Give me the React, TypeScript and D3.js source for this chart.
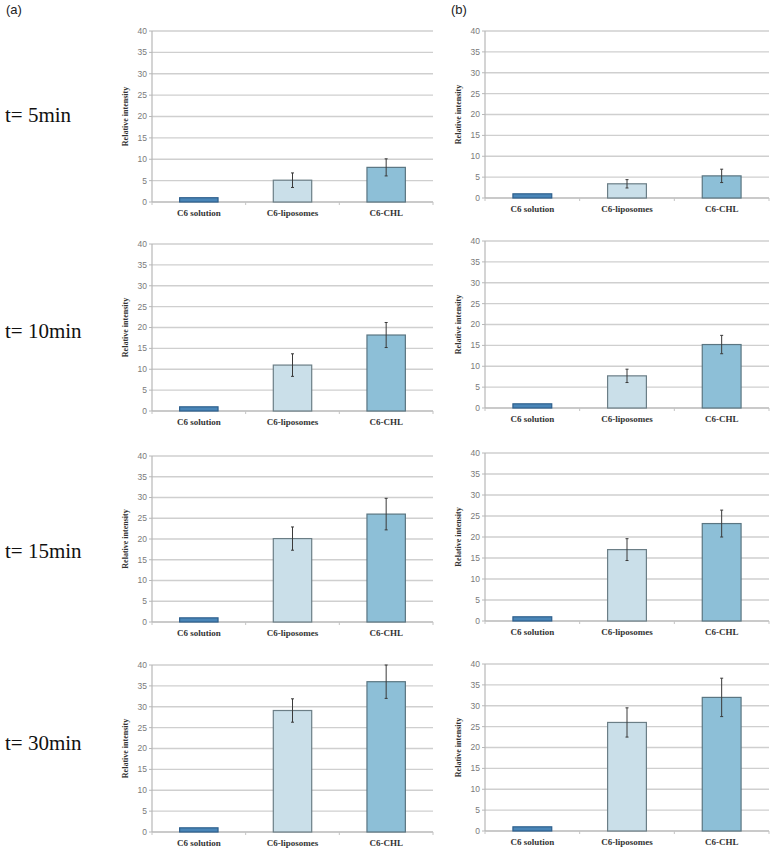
import React from "react";
import * as d3 from "d3";

const categories = ["C6 solution", "C6-liposomes", "C6-CHL"];
const timeLabels = ["t= 5min", "t= 10min", "t= 15min", "t= 30min"];
const panelNames = ["(a)", "(b)"];
const yTicks = [0, 5, 10, 15, 20, 25, 30, 35, 40];

const panelAValues = [
  [1, 5.1, 8.1],
  [1, 11, 18.2],
  [1, 20.1, 26],
  [1, 29.1, 36],
];
const panelAErrors = [
  [0, 1.7, 2],
  [0, 2.7, 3],
  [0, 2.8, 3.8],
  [0, 2.8, 4],
];
const panelBValues = [
  [1, 3.4, 5.3],
  [1, 7.7, 15.2],
  [1, 17, 23.2],
  [1, 26, 32],
];
const panelBErrors = [
  [0, 1, 1.6],
  [0, 1.6, 2.2],
  [0, 2.6, 3.2],
  [0, 3.5, 4.6],
];

const W = 777;
const H = 854;

// layout
const colX = [
  { left: 152, right: 433 },
  { left: 485, right: 769 },
];
const rowY = [
  [
    { top: 31, bottom: 202 },
    { top: 244, bottom: 411 },
    { top: 456, bottom: 622 },
    { top: 665, bottom: 832 },
  ],
  [
    { top: 31, bottom: 198 },
    { top: 241, bottom: 408 },
    { top: 453, bottom: 621 },
    { top: 664, bottom: 831 },
  ],
];
const timeLabelY = [122, 338, 558, 750];

const fills = ["#4a86b8", "#cadfe9", "#8dbfd7"];
const strokes = ["#2e5f8c", "#6b7e86", "#5a7581"];

function Panel({
  left,
  right,
  top,
  bottom,
  values,
  errors,
}: {
  left: number;
  right: number;
  top: number;
  bottom: number;
  values: number[];
  errors: number[];
}) {
  const x = d3
    .scaleBand<string>()
    .domain(categories)
    .range([left, right])
    .paddingInner(0.59)
    .paddingOuter(0.295);
  const y = d3.scaleLinear().domain([0, 40]).range([bottom, top]);
  const step = (right - left) / categories.length;
  const mid = (top + bottom) / 2;
  return (
    <g>
      {yTicks.map((t) => (
        <g key={t}>
          <line
            x1={left}
            x2={right}
            y1={y(t)}
            y2={y(t)}
            stroke={t === 0 ? "#b8b8b8" : "#cfcfcf"}
            strokeWidth={1.3}
          />
          <line x1={left - 3} x2={left} y1={y(t)} y2={y(t)} stroke="#b8b8b8" strokeWidth={1} />
          <text
            x={left - 5}
            y={y(t)}
            dy="0.35em"
            textAnchor="end"
            fontSize={8.5}
            fill="#7a7a7a"
            fontFamily="'Liberation Sans', Arial, sans-serif"
          >
            {t}
          </text>
        </g>
      ))}
      <line x1={left} x2={left} y1={top} y2={bottom} stroke="#b8b8b8" strokeWidth={1.2} />
      {d3.range(categories.length + 1).map((i) => (
        <line
          key={i}
          x1={left + i * step}
          x2={left + i * step}
          y1={bottom}
          y2={bottom + 3}
          stroke="#c4c4c4"
          strokeWidth={1}
        />
      ))}
      {categories.map((c, i) => {
        const bx = x(c) as number;
        const bw = x.bandwidth();
        const v = values[i];
        const e = errors[i];
        const cx = bx + bw / 2;
        return (
          <g key={c}>
            <rect
              x={bx}
              y={y(v)}
              width={bw}
              height={y(0) - y(v)}
              fill={fills[i]}
              stroke={strokes[i]}
              strokeWidth={1.2}
            />
            {e > 0 && (
              <g stroke="#3a3a3a" strokeWidth={1}>
                <line x1={cx} x2={cx} y1={y(v + e)} y2={y(v - e)} />
                <line x1={cx - 1.5} x2={cx + 1.5} y1={y(v + e)} y2={y(v + e)} />
                <line x1={cx - 1.5} x2={cx + 1.5} y1={y(v - e)} y2={y(v - e)} />
              </g>
            )}
            <text
              x={cx}
              y={bottom + 14}
              textAnchor="middle"
              fontSize={9}
              fontWeight="bold"
              fill="#333"
              fontFamily="'Liberation Serif', 'Times New Roman', serif"
            >
              {c}
            </text>
          </g>
        );
      })}
      <text
        transform={`translate(${left - 24},${mid}) rotate(-90)`}
        textAnchor="middle"
        fontSize={8}
        fontWeight="bold"
        fill="#333"
        fontFamily="'Liberation Serif', 'Times New Roman', serif"
      >
        Relative intensity
      </text>
    </g>
  );
}

export default function App() {
  const allValues = [panelAValues, panelBValues];
  const allErrors = [panelAErrors, panelBErrors];
  return (
    <svg
      width={W}
      height={H}
      style={{ position: "absolute", left: 0, top: 0, background: "#fff" }}
    >
      <rect x={0} y={0} width={W} height={H} fill="#fff" />
      <text x={6} y={14} fontSize={13} fill="#222" fontFamily="'Liberation Sans', Arial, sans-serif">
        {panelNames[0]}
      </text>
      <text x={451} y={14} fontSize={13} fill="#222" fontFamily="'Liberation Sans', Arial, sans-serif">
        {panelNames[1]}
      </text>
      {timeLabels.map((t, i) => (
        <text
          key={t}
          x={5}
          y={timeLabelY[i]}
          fontSize={21}
          fill="#111"
          fontFamily="'Liberation Serif', 'Times New Roman', serif"
        >
          {t}
        </text>
      ))}
      {colX.map((col, ci) =>
        rowY[ci].map((r, ri) => (
          <Panel
            key={`${ci}-${ri}`}
            left={col.left}
            right={col.right}
            top={r.top}
            bottom={r.bottom}
            values={allValues[ci][ri]}
            errors={allErrors[ci][ri]}
          />
        ))
      )}
    </svg>
  );
}
